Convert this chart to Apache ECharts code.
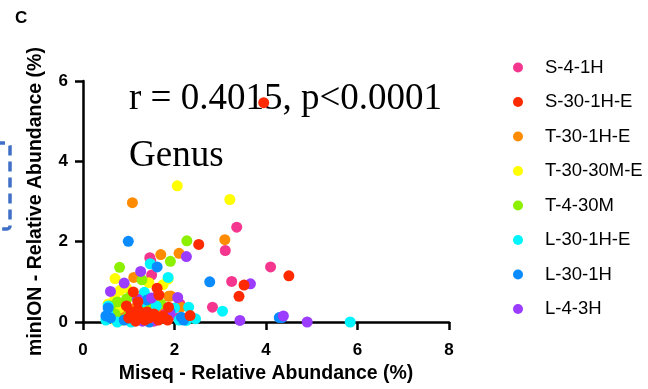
<!DOCTYPE html>
<html>
<head>
<meta charset="utf-8">
<script src="https://cdn.jsdelivr.net/npm/echarts@6/dist/echarts.min.js"></script>
<style>
  html, body { margin: 0; padding: 0; background: #fff; }
  #chart { width: 648px; height: 389px; }
</style>
</head>
<body>
<div id="chart"></div>
<script>
// sample names (legend order)
var sampleNames = ['S-4-1H', 'S-30-1H-E', 'T-30-1H-E', 'T-30-30M-E', 'T-4-30M', 'L-30-1H-E', 'L-30-1H', 'L-4-3H'];
var sampleColors = ['#f5368f', '#ff2a00', '#ff8c00', '#ffff00', '#8cf000', '#00f5ff', '#0a8cff', '#9b3cff'];

// [Miseq %, minION %] per genus
var s4_1h = [[3.36,2.36],[3.11,1.78],[1.48,1.53],[4.10,1.37],[1.50,1.17],[3.25,1.01],[2.83,0.37],[2.08,0.10],[2.12,0.45],[1.46,1.60],[1.50,0.49],[1.20,0.35],[0.90,0.20],[1.30,0.10],[1.70,0.25],[1.00,0.05],[1.55,0.02],[0.80,0.15]];
var s30_1he = [[3.95,5.46],[2.53,1.93],[4.50,1.15],[3.52,0.92],[3.41,0.64],[1.62,0.84],[1.66,0.67],[1.10,0.75],[1.87,0.37],[2.34,0.16],[1.20,0.30],[1.25,0.15],[1.05,0.25],[1.35,0.05],[1.45,0.10],[1.55,0.20],[1.75,0.15],[1.85,0.05],[1.65,0.05],[1.00,0.10],[1.15,0.02],[1.40,0.25],[1.20,0.50],[0.95,0.40]];
var t30_1he = [[1.08,2.97],[3.10,2.05],[1.70,1.68],[2.10,1.71],[1.11,1.11],[1.87,0.64],[2.14,0.37],[1.92,0.65],[0.90,0.25],[1.00,0.05],[0.85,0.10],[1.15,0.35],[1.30,0.40],[0.75,0.05],[1.60,0.35],[0.80,0.30]];
var t30_30me = [[2.06,3.39],[3.21,3.05],[1.44,0.98],[0.70,1.08],[1.75,0.93],[0.81,0.79],[1.86,1.07],[0.70,0.59],[0.60,0.15],[0.70,0.05],[0.65,0.30],[1.45,0.30],[1.60,0.10],[1.25,0.20],[0.80,0.35],[0.95,0.85],[0.55,0.45]];
var t4_30m = [[2.27,2.02],[1.91,1.51],[0.80,1.36],[1.29,1.05],[0.95,0.57],[0.70,0.20],[0.85,0.05],[1.50,0.40],[1.70,0.45],[1.35,0.30],[0.60,0.40],[1.00,0.15],[1.80,0.10],[1.40,0.05],[0.75,0.50],[1.05,0.65]];
var l30_1he = [[1.47,1.45],[1.86,1.11],[1.34,0.74],[3.05,0.27],[2.31,0.37],[2.46,0.08],[2.26,0.04],[5.84,0.00],[0.50,0.05],[0.55,0.20],[1.30,0.50],[1.60,0.40],[1.20,0.10],[2.00,0.35],[2.10,0.05],[0.75,0.00],[1.05,0.00],[0.55,0.40]];
var l30_1h = [[0.99,2.01],[1.62,1.37],[2.77,1.00],[4.29,0.11],[4.35,0.11],[2.15,0.12],[0.55,0.35],[0.60,0.10],[1.40,0.55],[1.90,0.25],[2.20,0.05],[1.45,0.00],[0.90,0.05],[0.50,0.15]];
var l4_3h = [[2.26,1.63],[1.26,1.26],[0.90,0.97],[0.60,0.76],[3.66,0.95],[3.43,0.04],[2.07,0.61],[4.38,0.15],[4.90,0.00],[1.19,0.57],[1.60,0.05],[1.90,0.20],[1.50,0.60],[1.30,0.02]];

var seriesData = [s4_1h, s30_1he, t30_1he, t30_30me, t4_30m, l30_1he, l30_1h, l4_3h];
// red drawn on top of the cluster
var seriesZ = [2, 4, 2, 2, 2, 2, 2, 2];

var xTicks = { min: 0, max: 8, interval: 2 };
var yTicks = { min: 0, max: 6, interval: 2 };

var myChart = echarts.init(document.getElementById('chart'));

var series = [];
for (var i = 0; i < sampleNames.length; i++) {
    series.push({
        name: sampleNames[i],
        type: 'scatter',
        symbol: 'circle',
        symbolSize: 11,
        z: seriesZ[i],
        itemStyle: { color: sampleColors[i], opacity: 1 },
        data: seriesData[i]
    });
}

var option = {
    animation: false,
    backgroundColor: '#fff',
    grid: {
        left: 83,
        right: 199,
        top: 81,
        bottom: 64
    },
    legend: {
        data: sampleNames,
        orient: 'vertical',
        left: 508,
        top: 53,
        icon: 'circle',
        itemWidth: 20,
        itemHeight: 10,
        itemGap: 15.5,
        textStyle: {
            fontFamily: 'Liberation Sans, Arial, sans-serif',
            fontSize: 18.5,
            lineHeight: 19,
            color: '#000',
            padding: [0, 0, 0, 12]
        }
    },
    xAxis: {
        type: 'value',
        min: xTicks.min,
        max: xTicks.max,
        interval: xTicks.interval,
        name: 'Miseq - Relative Abundance (%)',
        nameLocation: 'middle',
        nameGap: 42,
        nameTextStyle: {
            fontFamily: 'Liberation Sans, Arial, sans-serif',
            fontWeight: 'bold',
            fontSize: 19.5,
            color: '#000'
        },
        splitLine: { show: false },
        axisLine: { lineStyle: { color: '#000', width: 2.5 } },
        axisTick: { length: 8, lineStyle: { color: '#000', width: 2.5 } },
        axisLabel: {
            margin: 20,
            fontFamily: 'Liberation Sans, Arial, sans-serif',
            fontWeight: 'bold',
            fontSize: 17,
            color: '#000'
        }
    },
    yAxis: {
        type: 'value',
        min: yTicks.min,
        max: yTicks.max,
        interval: yTicks.interval,
        name: 'minION - Relative Abundance (%)',
        nameLocation: 'middle',
        nameGap: 37,
        nameTextStyle: {
            fontFamily: 'Liberation Sans, Arial, sans-serif',
            fontWeight: 'bold',
            fontSize: 19.5,
            color: '#000'
        },
        splitLine: { show: false },
        axisLine: { show: true, lineStyle: { color: '#000', width: 2.5 } },
        axisTick: { show: true, length: 8, lineStyle: { color: '#000', width: 2.5 } },
        axisLabel: {
            margin: 15,
            fontFamily: 'Liberation Sans, Arial, sans-serif',
            fontWeight: 'bold',
            fontSize: 17,
            color: '#000'
        }
    },
    graphic: [
        {
            type: 'text',
            left: 15,
            top: 10,
            style: { text: 'C', fontFamily: 'Liberation Sans', fontWeight: 'bold', fontSize: 17, fill: '#000' }
        },
        {
            type: 'text',
            left: 129,
            top: 81,
            style: { text: 'r = 0.4015, p<0.0001', font: '37px "Liberation Serif", "Times New Roman", serif', fill: '#000' }
        },
        {
            type: 'text',
            left: 129,
            top: 138,
            style: { text: 'Genus', font: '37px "Liberation Serif", "Times New Roman", serif', fill: '#000' }
        },
        {
            type: 'rect',
            shape: { x: -40, y: 143, width: 50, height: 86, r: 3 },
            style: { fill: 'none', stroke: '#3f6fc6', lineWidth: 3.5, lineDash: [10, 6] }
        }
    ],
    series: series
};

myChart.setOption(option);
</script>
</body>
</html>
